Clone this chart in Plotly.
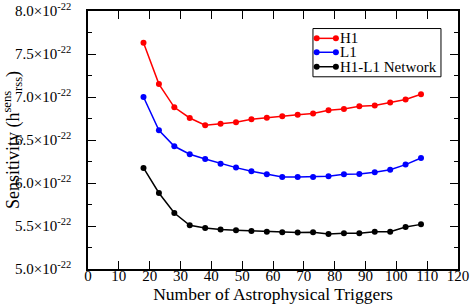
import plotly.graph_objects as go

triggers = [18, 23, 28, 33, 38, 43, 48, 53, 58, 63, 68, 73, 78, 83, 88, 93, 98, 103, 108]
h1 = [7.63e-22, 7.15e-22, 6.88e-22, 6.756e-22, 6.671e-22, 6.69e-22, 6.706e-22, 6.74e-22, 6.76e-22,
      6.776e-22, 6.795e-22, 6.807e-22, 6.845e-22, 6.86e-22, 6.892e-22, 6.90e-22, 6.935e-22, 6.97e-22, 7.031e-22]
l1 = [7.0e-22, 6.613e-22, 6.427e-22, 6.334e-22, 6.279e-22, 6.225e-22, 6.179e-22, 6.136e-22, 6.101e-22,
      6.07e-22, 6.07e-22, 6.07e-22, 6.078e-22, 6.101e-22, 6.105e-22, 6.124e-22, 6.155e-22, 6.214e-22, 6.291e-22]
network = [6.175e-22, 5.884e-22, 5.651e-22, 5.508e-22, 5.477e-22, 5.458e-22, 5.45e-22, 5.442e-22, 5.434e-22,
           5.427e-22, 5.423e-22, 5.427e-22, 5.407e-22, 5.415e-22, 5.415e-22, 5.434e-22, 5.434e-22, 5.488e-22, 5.519e-22]
series_names = ["H1", "L1", "H1-L1 Network"]
series_colors = ["#ff0000", "#0000ff", "#000000"]

ytick_vals = [5.0e-22, 5.5e-22, 6.0e-22, 6.5e-22, 7.0e-22, 7.5e-22, 8.0e-22]
ytick_text = ["5.0×10<sup>-22</sup>", "5.5×10<sup>-22</sup>", "6.0×10<sup>-22</sup>", "6.5×10<sup>-22</sup>",
              "7.0×10<sup>-22</sup>", "7.5×10<sup>-22</sup>", "8.0×10<sup>-22</sup>"]
yminor_vals = [5.25e-22, 5.75e-22, 6.25e-22, 6.75e-22, 7.25e-22, 7.75e-22]
xtick_vals = [0, 10, 20, 30, 40, 50, 60, 70, 80, 90, 100, 110, 120]

FONT = "Liberation Serif"

fig = go.Figure()
for name, ys, col in zip(series_names, [h1, l1, network], series_colors):
    fig.add_trace(go.Scatter(x=triggers, y=ys, name=name, mode="lines+markers",
                             line=dict(color=col, width=1.5),
                             marker=dict(color=col, size=6, symbol="circle"),
                             showlegend=False))

# Legend box drawn in paper coordinates (compact, like the original)
LEG_X0, LEG_X1, LEG_Y0, LEG_Y1 = 0.608, 0.954, 0.745, 0.932
ROW_Y = [0.894, 0.840, 0.784]
SAMPLE_X0, SAMPLE_X1, TEXT_X = 0.618, 0.670, 0.678
fig.add_shape(type="rect", xref="paper", yref="paper", x0=LEG_X0, x1=LEG_X1, y0=LEG_Y0, y1=LEG_Y1,
              line=dict(color="black", width=1), fillcolor="white", layer="above")
for name, col, ry in zip(series_names, series_colors, ROW_Y):
    fig.add_shape(type="line", xref="paper", yref="paper", x0=SAMPLE_X0, x1=SAMPLE_X1, y0=ry, y1=ry,
                  line=dict(color=col, width=1.5), layer="above")
    for sx in (SAMPLE_X0, SAMPLE_X1):
        fig.add_shape(type="circle", xref="paper", yref="paper", xsizemode="pixel", ysizemode="pixel",
                      xanchor=sx, yanchor=ry, x0=-3, x1=3, y0=-3, y1=3,
                      line=dict(color=col, width=0), fillcolor=col, layer="above")
    fig.add_annotation(xref="paper", yref="paper", x=TEXT_X, y=ry, text=name, showarrow=False,
                       xanchor="left", yanchor="middle", borderpad=0,
                       font=dict(family=FONT, size=15, color="black"))

fig.update_layout(
    width=471, height=308,
    margin=dict(l=88, r=13, t=11, b=39, autoexpand=False),
    paper_bgcolor="white", plot_bgcolor="white",
    font=dict(family=FONT, size=15, color="black"),
    showlegend=False,
    xaxis=dict(range=[0, 120], tickmode="array", tickvals=xtick_vals, automargin=False,
               ticks="inside", ticklen=8, tickcolor="black", tickwidth=1,
               showline=True, linecolor="black", linewidth=1.5, mirror="ticks",
               showgrid=False, zeroline=False,
               tickfont=dict(family=FONT, size=15),
               ticklabelstandoff=-8,
               title=dict(text="Number of Astrophysical Triggers", font=dict(family=FONT, size=17.5), standoff=0)),
    yaxis=dict(range=[5.0e-22, 8.0e-22], tickmode="array", tickvals=ytick_vals, ticktext=ytick_text,
               automargin=False,
               ticks="inside", ticklen=8, tickcolor="black", tickwidth=1,
               minor=dict(tickmode="array", tickvals=yminor_vals,
                          ticks="inside", ticklen=4, tickcolor="black"),
               showline=True, linecolor="black", linewidth=1.5, mirror="ticks",
               showgrid=False, zeroline=False,
               tickfont=dict(family=FONT, size=15),
               ticklabelstandoff=12,
               title=dict(text="Sensitivity (h<sup>sens</sup><sub>rss</sub>)", font=dict(family=FONT, size=18), standoff=3)),
)

fig.write_html("out.html", config={"displayModeBar": False},
               post_script="document.body.style.margin='0';document.body.style.overflow='hidden';")
